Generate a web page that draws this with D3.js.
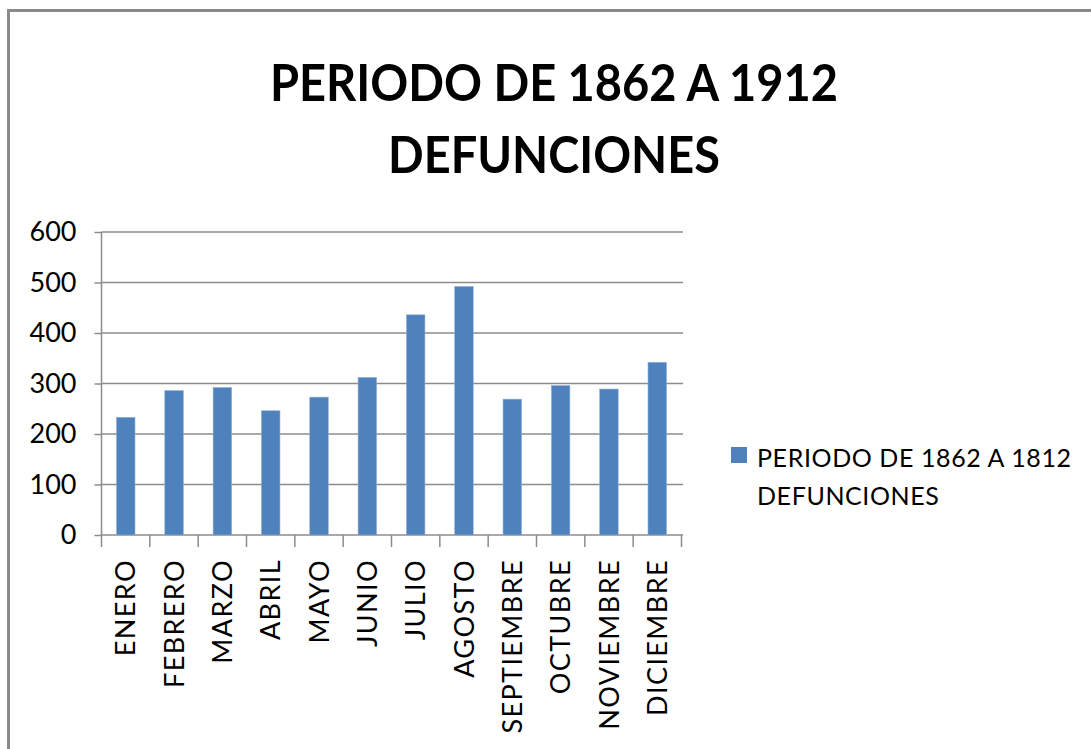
<!DOCTYPE html>
<html lang="es">
<head>
<meta charset="utf-8">
<title>Periodo de 1862 a 1912 - Defunciones</title>
<script src="https://d3js.org/d3.v7.min.js"></script>
<style>
    body { margin: 0; background: #fff; }
    svg text { font-family: Lato, "Open Sans", sans-serif; fill: #000; }
</style>
</head>
<body>
<div id="chart"></div>
<script>
    // data
    var meses = ["ENERO", "FEBRERO", "MARZO", "ABRIL", "MAYO", "JUNIO",
                 "JULIO", "AGOSTO", "SEPTIEMBRE", "OCTUBRE", "NOVIEMBRE", "DICIEMBRE"];
    var defunciones = [233, 286, 292, 246, 273, 312, 436, 492, 269, 296, 289, 342];
    var yTicks = [0, 100, 200, 300, 400, 500, 600];
    var titulo = ["PERIODO DE 1862 A 1912", "DEFUNCIONES"];
    var tituloAncho = [568, 332];
    var leyenda = ["PERIODO DE 1862 A 1812", "DEFUNCIONES"];

    var width = 1091, height = 749;
    var plot = {left: 101.5, right: 681.5, top: 232, bottom: 535};
    var gridColor = "#8c8c8c";

    var svg = d3.select("#chart").append("svg")
        .attr("width", width)
        .attr("height", height);

    // outer frame of the chart object
    svg.append("rect")
        .attr("x", 8.5).attr("y", 10.5)
        .attr("width", 1200).attr("height", 900)
        .attr("fill", "none")
        .attr("stroke", "#8a8a8a")
        .attr("stroke-width", 3);

    // title (Calibri is narrower than Lato, so squeeze to the original width)
    svg.append("g")
        .selectAll("text")
        .data(titulo)
        .enter().append("text")
        .attr("text-anchor", "middle")
        .attr("font-weight", "bold")
        .attr("font-size", 52)
        .attr("x", 554)
        .attr("y", function(d, i) { return 101 + i * 72; })
        .attr("textLength", function(d, i) { return tituloAncho[i]; })
        .attr("lengthAdjust", "spacingAndGlyphs")
        .text(function(d) { return d; });

    var x = d3.scaleBand()
        .domain(meses)
        .range([plot.left, plot.right])
        .paddingInner(0.617)
        .paddingOuter(0.31);

    var y = d3.scaleLinear()
        .domain([0, 600])
        .range([plot.bottom, plot.top]);

    // y ticks + labels
    var yAxis = svg.append("g")
        .attr("transform", "translate(" + plot.left + ",0)")
        .call(d3.axisLeft(y).tickValues(yTicks)
            .tickSize(7).tickPadding(18));
    yAxis.select(".domain").remove();
    yAxis.selectAll(".tick line").attr("stroke", gridColor).attr("stroke-width", 1.5);
    yAxis.selectAll(".tick text")
        .attr("font-size", 27)
        .attr("font-family", "Lato, sans-serif")
        .attr("fill", "#000");

    // horizontal gridlines
    svg.append("g")
        .selectAll("line")
        .data(yTicks)
        .enter().append("line")
        .attr("x1", plot.left).attr("x2", plot.right + 1.5)
        .attr("y1", function(d) { return y(d); })
        .attr("y2", function(d) { return y(d); })
        .attr("stroke", gridColor)
        .attr("stroke-width", 1.5);

    // vertical axis line
    svg.append("line")
        .attr("x1", plot.left).attr("x2", plot.left)
        .attr("y1", plot.top).attr("y2", plot.bottom)
        .attr("stroke", gridColor)
        .attr("stroke-width", 1.5);

    // bars
    svg.append("g")
        .selectAll("rect")
        .data(defunciones)
        .enter().append("rect")
        .attr("x", function(d, i) { return x(meses[i]); })
        .attr("y", function(d) { return y(d); })
        .attr("width", x.bandwidth())
        .attr("height", function(d) { return y(0) - y(d); })
        .attr("fill", "#4f81bd")
        .attr("stroke", "#8fb0d8")
        .attr("stroke-width", 0.6);

    // category tick marks between bands
    var bounds = d3.range(meses.length + 1).map(function(i) {
        return plot.left + i * (plot.right - plot.left) / meses.length;
    });
    svg.append("g")
        .selectAll("line")
        .data(bounds)
        .enter().append("line")
        .attr("x1", function(d) { return d; }).attr("x2", function(d) { return d; })
        .attr("y1", plot.bottom).attr("y2", plot.bottom + 12)
        .attr("stroke", gridColor)
        .attr("stroke-width", 1.5);

    // x labels, rotated
    svg.append("g")
        .selectAll("text")
        .data(meses)
        .enter().append("text")
        .attr("transform", function(d) {
            return "translate(" + (x(d) + x.bandwidth() / 2) + "," + (plot.bottom + 24) + ") rotate(-90)";
        })
        .attr("dy", "0.36em")
        .attr("text-anchor", "end")
        .attr("font-size", 27)
        .attr("letter-spacing", 1.4)
        .text(function(d) { return d; });

    // legend
    var leg = svg.append("g").attr("transform", "translate(731,447)");
    leg.append("rect")
        .attr("width", 16).attr("height", 16)
        .attr("fill", "#4f81bd");
    leg.append("text")
        .attr("font-size", 25)
        .selectAll("tspan")
        .data(leyenda)
        .enter().append("tspan")
        .attr("x", 26)
        .attr("y", function(d, i) { return 20 + i * 38; })
        .attr("letter-spacing", 0.6)
        .text(function(d) { return d; });
</script>
</body>
</html>
